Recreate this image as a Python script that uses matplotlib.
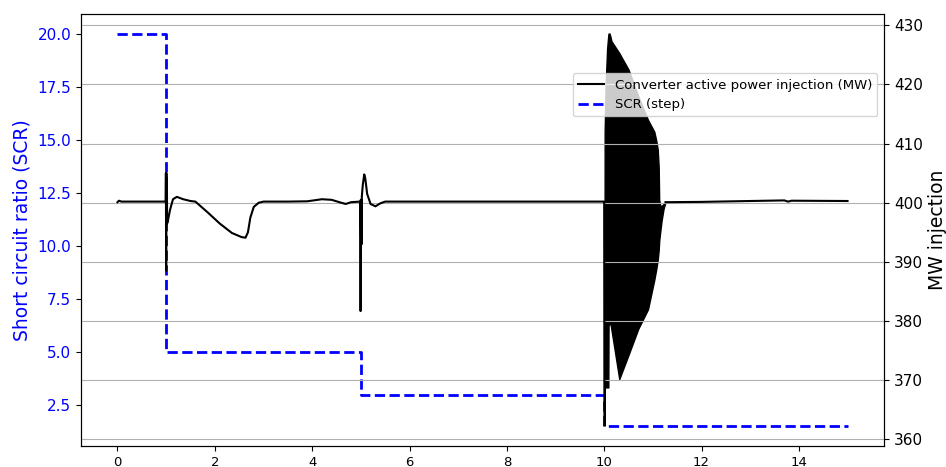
import numpy as np
import matplotlib
matplotlib.use("Agg")
import matplotlib.pyplot as plt

# SCR step profile
scr_t = [0, 1, 5, 10, 15]
scr_val = [20, 5, 3, 1.5, 1.5]

# converter active power (MW)
mw_t = [0.0, 0.03, 0.08, 0.5, 0.99, 0.995, 1.0, 1.005, 1.01, 1.015, 1.02, 1.035,
        1.08, 1.14, 1.22, 1.35, 1.5, 1.6, 1.85, 2.1, 2.35, 2.55, 2.63, 2.68,
        2.73, 2.8, 2.9, 3.0, 3.5, 3.9, 4.2, 4.4, 4.6, 4.69, 4.8, 4.99, 4.995,
        5.0, 5.005, 5.01, 5.015, 5.02, 5.04, 5.07, 5.09, 5.13, 5.2, 5.3, 5.4,
        5.5, 6.0, 8.0, 9.99, 10.0, 10.005]
mw_val = [400.1, 400.35, 400.2, 400.2, 400.2, 405.0, 388.5, 405.0, 396.5, 404.0,
          396.5, 396.9, 398.8, 400.6, 401.0, 400.6, 400.3, 400.2, 398.4, 396.5,
          394.9, 394.2, 394.1, 395.0, 397.5, 399.3, 400.0, 400.2, 400.2, 400.25,
          400.6, 400.5, 400.0, 399.8, 400.1, 400.2, 381.7, 400.5, 393.0, 400.5,
          393.0, 401.0, 403.0, 404.8, 404.2, 401.5, 399.8, 399.4, 399.9, 400.2,
          400.2, 400.2, 400.2, 400.2, 362.4]
mw_t2 = [11.26, 12.0, 13.0, 13.7, 13.78, 13.85, 15.0]
mw_val2 = [400.1, 400.15, 400.3, 400.4, 400.2, 400.35, 400.3]

# envelope of the fast oscillation after t = 10 s
env_t = [10.005, 10.01, 10.03, 10.06, 10.085, 10.09, 10.11, 10.13, 10.15, 10.31,
         10.5, 10.7, 10.9, 11.03, 11.07, 11.1, 11.12, 11.13, 11.15, 11.18, 11.22, 11.26]
env_hi = [362.4, 412.0, 420.0, 426.0, 428.4, 428.6, 428.6, 428.0, 427.3, 425.3,
          422.5, 418.0, 414.0, 412.0, 410.5, 409.0, 406.0, 400.5, 399.5, 399.5,
          399.8, 400.1]
env_lo = [362.4, 368.8, 368.8, 368.8, 368.8, 379.5, 379.5, 379.5, 378.5, 370.2,
          374.3, 378.7, 382.0, 387.0, 388.8, 390.4, 392.0, 393.5, 395.0, 397.0,
          399.0, 400.1]

fig, ax1 = plt.subplots(figsize=(9.46, 4.67), dpi=100)
fig.subplots_adjust(left=0.0856, right=0.9345, bottom=0.045, top=0.970)

l2, = ax1.step(scr_t, scr_val, where='post', color='blue', linestyle='--',
               linewidth=2, label='SCR (step)')
ax1.set_ylabel('Short circuit ratio (SCR)', color='blue', fontsize=13.5)
ax1.tick_params(axis='y', labelcolor='blue', labelsize=11)
ax1.tick_params(axis='x', labelsize=9.5)
ax1.set_yticks([2.5, 5.0, 7.5, 10.0, 12.5, 15.0, 17.5, 20.0])
ax1.set_xlim(-0.75, 15.75)
ax1.set_ylim(0.575, 20.925)

ax2 = ax1.twinx()
l1, = ax2.plot(mw_t, mw_val, color='k', linewidth=1.5,
               label='Converter active power injection (MW)')
ax2.plot(mw_t2, mw_val2, color='k', linewidth=1.5)
ax2.fill_between(env_t, env_lo, env_hi, color='k', linewidth=1.0)
ax2.set_ylabel('MW injection', fontsize=13.5)
ax2.tick_params(axis='y', labelsize=11)
ax2.set_ylim(358.9, 431.9)
ax2.grid(axis='y')

ax2.legend(handles=[l1, l2], loc='upper right', bbox_to_anchor=(1.0, 0.878),
           fontsize=9.5)

fig.savefig('out.png', dpi=100)
